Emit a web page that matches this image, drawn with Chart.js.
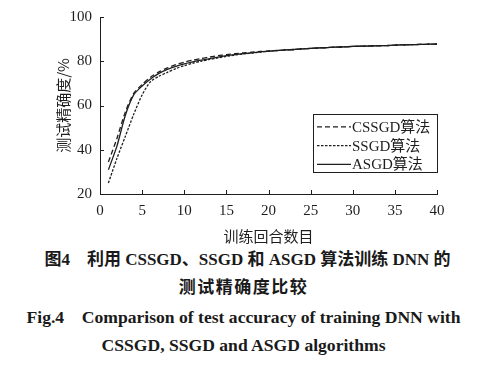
<!DOCTYPE html>
<html>
<head>
<meta charset="utf-8">
<script src="https://cdn.jsdelivr.net/npm/chart.js@4.4.1/dist/chart.umd.min.js"></script>
<style>
  html, body { margin: 0; padding: 0; background: #fff; }
  #wrap { width: 487px; height: 245px; position: relative; }
  .cap { position: absolute; left: 0; width: 487px; line-height: 24px; text-align: center; color: #1a1a1a; font-weight: bold; white-space: pre; }
  .cn { font-family: "Liberation Serif", "Noto Sans CJK SC", serif; font-size: 17px; }
  .en { font-family: "Liberation Serif", serif; font-size: 17.6px; }
</style>
</head>
<body>
<div id="wrap"><canvas id="chart" width="487" height="245"></canvas></div>
<div class="cap cn" style="top:248px;padding-left:8px;width:479px;">图4    利用 CSSGD、SSGD 和 ASGD 算法训练 DNN 的</div>
<div class="cap cn" style="top:276px;letter-spacing:1.5px;">测试精确度比较</div>
<div class="cap en" style="top:305px;">Fig.4    Comparison of test accuracy of training DNN with</div>
<div class="cap en" style="top:333px;">CSSGD, SSGD and ASGD algorithms</div>
<script>
// epochs and accuracy
const epochs = [1,2,3,4,5,6,7,8,9,10,11,12,13,14,15,16,17,18,19,20,
                21,22,23,24,25,26,27,28,29,30,31,32,33,34,35,36,37,38,39,40];
const cssgd = [34.5,45,57,65.5,69.5,72.8,75.2,77,78.5,79.6,80.5,81.2,81.9,82.5,83,83.4,83.8,84.1,84.4,84.7,
               84.9,85.1,85.3,85.6,85.8,86,86.2,86.4,86.5,86.7,86.8,86.9,87,87.1,87.3,87.4,87.5,87.6,87.7,87.8];
const ssgd = [25,36,46,56,64.8,70.8,73.2,75,76.7,78,79.1,80,80.8,81.5,82.2,82.8,83.3,83.7,84.1,84.5,
              84.8,85.1,85.3,85.6,85.8,86,86.2,86.4,86.5,86.7,86.8,86.9,87,87.1,87.3,87.4,87.5,87.6,87.7,87.8];
const asgd = [31,41.5,55.5,64.8,68.8,72,74.5,76.3,77.7,78.8,79.7,80.5,81.2,81.9,82.5,83,83.4,83.8,84.2,84.5,
              84.8,85.1,85.3,85.6,85.8,86,86.2,86.4,86.5,86.7,86.8,86.9,87,87.1,87.3,87.4,87.5,87.6,87.7,87.8];
const seriesNames = ['CSSGD算法', 'SSGD算法', 'ASGD算法'];
const dashes = [[5, 3], [2.5, 1.5], []];
const xTicks = [0,5,10,15,20,25,30,35,40];
const yTicks = [20,40,60,80,100];

const ink = '#1e1e1e';
const serif = 'Liberation Serif';

Chart.defaults.font.family = serif;

function pts(ys) { return epochs.map((e, i) => ({ x: e, y: ys[i] })); }

// ticks pointing into the plot, like the original
const innerTicks = {
    id: 'innerTicks',
    afterDraw(chart) {
        const ctx = chart.ctx, a = chart.chartArea;
        const xs = chart.scales.x, ys = chart.scales.y;
        ctx.save();
        ctx.strokeStyle = ink;
        ctx.lineWidth = 1;
        ctx.beginPath();
        xTicks.forEach(v => {
            const px = Math.round(xs.getPixelForValue(v)) + 0.5;
            ctx.moveTo(px, a.bottom);
            ctx.lineTo(px, a.bottom - 4);
        });
        yTicks.forEach(v => {
            const py = Math.round(ys.getPixelForValue(v)) + 0.5;
            ctx.moveTo(a.left, py);
            ctx.lineTo(a.left + 4, py);
        });
        ctx.stroke();
        ctx.restore();
    }
};

// boxed legend inside the plot, lower right
const boxLegend = {
    id: 'boxLegend',
    afterDraw(chart) {
        const ctx = chart.ctx, a = chart.chartArea;
        const w = 124, h = 58;
        const x0 = a.right - w, y0 = chart.scales.y.getPixelForValue(56);
        ctx.save();
        ctx.strokeStyle = ink;
        ctx.lineWidth = 1;
        ctx.strokeRect(Math.round(x0) + 0.5, Math.round(y0) + 0.5, w, h);
        ctx.font = '15px "Liberation Serif", "Noto Sans CJK SC", serif';
        ctx.fillStyle = ink;
        ctx.textBaseline = 'middle';
        seriesNames.forEach((name, i) => {
            const ly = y0 + 12.5 + i * 18.8;
            ctx.beginPath();
            ctx.setLineDash(dashes[i]);
            ctx.lineWidth = 1.3;
            ctx.moveTo(x0 + 4, ly);
            ctx.lineTo(x0 + 38, ly);
            ctx.stroke();
            ctx.setLineDash([]);
            ctx.fillText(name, x0 + 39, ly + 1);
        });
        ctx.restore();
    }
};

new Chart(document.getElementById('chart'), {
    type: 'line',
    data: {
        datasets: [cssgd, ssgd, asgd].map((d, i) => ({
            label: seriesNames[i],
            data: pts(d),
            borderColor: ink,
            borderWidth: 1.3,
            borderDash: dashes[i],
            pointRadius: 0,
            tension: 0.25,
            fill: false
        }))
    },
    options: {
        responsive: false,
        animation: false,
        layout: { padding: { top: 8, right: 50, left: 8, bottom: 0 } },
        plugins: { legend: { display: false }, tooltip: { enabled: false } },
        scales: {
            x: {
                type: 'linear', min: 0, max: 40,
                afterBuildTicks: s => { s.ticks = xTicks.map(v => ({ value: v })); },
                afterFit: s => { s.height = 51; },
                grid: { display: false, drawTicks: false },
                border: { display: true, color: ink, width: 1 },
                ticks: { color: ink, font: { family: serif, size: 15 }, padding: 8, maxRotation: 0 },
                title: { display: true, text: '训练回合数目', color: ink,
                         font: { family: 'Noto Sans CJK SC', size: 15 }, padding: { top: 5, bottom: 0 } }
            },
            y: {
                min: 20, max: 100,
                afterBuildTicks: s => { s.ticks = yTicks.map(v => ({ value: v })); },
                afterFit: s => { s.width = 92; },
                grid: { display: false, drawTicks: false },
                border: { display: true, color: ink, width: 1 },
                ticks: { color: ink, font: { family: serif, size: 15 }, padding: 8 },
                title: { display: true, text: '测试精确度/%', color: ink,
                         font: { family: 'Noto Sans CJK SC', size: 15 }, padding: { top: 46, bottom: 0 } }
            }
        }
    },
    plugins: [innerTicks, boxLegend]
});
</script>
</body>
</html>
